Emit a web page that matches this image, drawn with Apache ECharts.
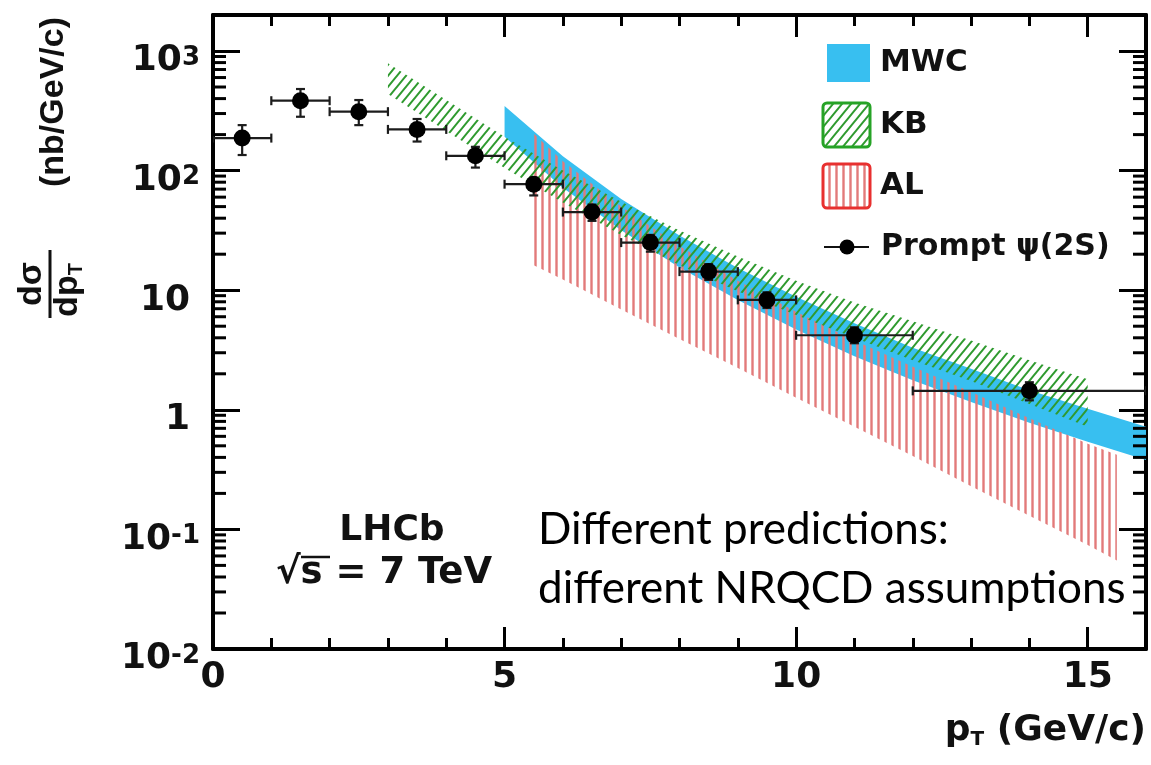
<!DOCTYPE html>
<html>
<head>
<meta charset="utf-8">
<script src="https://cdn.jsdelivr.net/npm/echarts@6.0.0/dist/echarts.min.js"></script>
<style>
  html, body { margin: 0; padding: 0; background: #ffffff; }
  #chart { width: 1151px; height: 765px; }
</style>
</head>
<body>
<div id="chart"></div>
<script>
// ---------------- data ----------------
// LHCb prompt psi(2S) cross-section, pT bins (GeV/c)
const ptLow  = [0, 1, 2, 3, 4, 5, 6, 7, 8, 9, 10, 12];
const ptHigh = [1, 2, 3, 4, 5, 6, 7, 8, 9, 10, 12, 16];
const ptMid  = [0.5, 1.5, 2.5, 3.5, 4.5, 5.5, 6.5, 7.5, 8.5, 9.5, 11, 14];
// dsigma/dpT (nb/GeV/c) with lower / upper error ends
const psi2S     = [187, 384, 311, 221, 133, 77, 45, 25, 14.3, 8.3, 4.2, 1.44];
const psi2SDown = [135, 282, 240, 175, 106, 62, 38, 21, 12.2, 7.1, 3.6, 1.2];
const psi2SUp   = [240, 481, 389, 270, 158, 87, 52, 29, 16.5, 9.6, 4.9, 1.7];

// NRQCD predictions: band edges
const mwcPt   = [5, 6, 7, 8, 9, 10, 11, 12, 13, 14, 15, 16];
const mwcLow  = [192, 72, 31.7, 15.5, 8.3, 4.7, 2.8, 1.77, 1.16, 0.78, 0.54, 0.38];
const mwcHigh = [347, 132, 58, 28.6, 15.3, 8.8, 5.3, 3.3, 2.2, 1.46, 1.02, 0.72];

const kbPt   = [3, 4, 5, 6, 7, 8, 9, 10, 11, 12, 13, 14, 15];
const kbLow  = [437, 214, 105, 54, 29, 16.2, 9.8, 6.2, 4.0, 2.6, 1.74, 1.12, 0.72];
const kbHigh = [789, 389, 192, 100, 55, 31.6, 19.1, 12.0, 7.9, 5.5, 3.8, 2.6, 1.8];

const alPt   = [5.5, 6, 7, 8, 9, 10, 11, 12, 13, 14, 15, 15.5];
const alLow  = [16.2, 12.3, 6.9, 3.9, 2.24, 1.26, 0.72, 0.41, 0.23, 0.13, 0.074, 0.055];
const alHigh = [204, 120, 50, 23.4, 12.0, 6.6, 3.8, 2.29, 1.41, 0.85, 0.52, 0.42];

// axis ranges
const xRange = [0, 16];
const yRange = [0.01, 2000];
const xLabelStep = 5;

// ---------------- styles ----------------
const BLUE = '#38bff0';
const GREEN = '#2f9a2f';
const RED = '#e27a7a';
const BOLD = 'DejaVu Sans';
const TITLE = 'Liberation Sans';

function hatchTile(kind, w, h, color, lw) {
  const c = document.createElement('canvas');
  c.width = w; c.height = h;
  const g = c.getContext('2d');
  g.strokeStyle = color;
  g.lineWidth = lw;
  g.beginPath();
  if (kind === 'vertical') {
    g.moveTo(w / 2, -1); g.lineTo(w / 2, h + 1);
  } else {
    for (let k = -1; k <= 1; k++) {
      g.moveTo(-1, h * (1 + k) + h / w);
      g.lineTo(w + 1, h * k - h / w);
    }
  }
  g.stroke();
  return c;
}
const greenHatch = { image: hatchTile('diag', 9, 11, GREEN, 2), repeat: 'repeat' };
const redHatch = { image: hatchTile('vertical', 7, 7, RED, 2.4), repeat: 'repeat' };

// ---------------- series builders ----------------
function bandSeries(name, xs, lo, hi, fill, z, blend) {
  return {
    type: 'custom', name: name, coordinateSystem: 'cartesian2d',
    xAxisIndex: 0, yAxisIndex: 0, silent: true, clip: true, z: z,
    data: xs.map((x, i) => [x, lo[i], hi[i]]),
    encode: { x: 0, y: [1, 2] },
    renderItem: function (params, api) {
      if (params.dataIndex !== 0) return null;
      const pts = [];
      for (let i = 0; i < xs.length; i++) pts.push(api.coord([xs[i], hi[i]]));
      for (let i = xs.length - 1; i >= 0; i--) pts.push(api.coord([xs[i], lo[i]]));
      const style = { fill: fill };
      if (blend) style.blend = blend;
      return { type: 'polygon', shape: { points: pts }, style: style };
    }
  };
}

const errData = ptMid.map((x, i) => [x, psi2S[i], ptLow[i], ptHigh[i], psi2SDown[i], psi2SUp[i]]);

const errSeries = {
  type: 'custom', name: 'errors', coordinateSystem: 'cartesian2d',
  xAxisIndex: 0, yAxisIndex: 0, silent: true, clip: true, z: 5,
  data: errData,
  encode: { x: [0, 2, 3], y: [1, 4, 5] },
  renderItem: function (params, api) {
    const x = api.value(0), y = api.value(1);
    const c = api.coord([x, y]);
    const l = api.coord([api.value(2), y]);
    const r = api.coord([api.value(3), y]);
    const d = api.coord([x, api.value(4)]);
    const u = api.coord([x, api.value(5)]);
    const cap = 4.5;
    const st = { stroke: '#1c1c1c', lineWidth: 2.2 };
    const seg = (x1, y1, x2, y2) => ({ type: 'line', shape: { x1, y1, x2, y2 }, style: st });
    return {
      type: 'group',
      children: [
        seg(l[0], c[1], r[0], c[1]),
        seg(l[0], c[1] - cap, l[0], c[1] + cap),
        seg(r[0], c[1] - cap, r[0], c[1] + cap),
        seg(c[0], d[1], c[0], u[1]),
        seg(c[0] - cap, d[1], c[0] + cap, d[1]),
        seg(c[0] - cap, u[1], c[0] + cap, u[1])
      ]
    };
  }
};

// minor log ticks (2..9 in every decade) on left and right frame edges
const minorVals = [];
for (let e = -2; e <= 3; e++) {
  for (let m = 2; m <= 9; m++) {
    const v = m * Math.pow(10, e);
    if (v < yRange[1]) minorVals.push(v);
  }
}
const minorTickSeries = {
  type: 'custom', name: 'minorTicks', coordinateSystem: 'cartesian2d',
  xAxisIndex: 0, yAxisIndex: 0, silent: true, clip: false, z: 8,
  data: minorVals.map(v => [xRange[0], v]),
  encode: { x: 0, y: 1 },
  renderItem: function (params, api) {
    const v = api.value(1);
    const a = api.coord([xRange[0], v]);
    const b = api.coord([xRange[1], v]);
    const st = { stroke: '#000', lineWidth: 3 };
    return {
      type: 'group',
      children: [
        { type: 'line', shape: { x1: a[0], y1: a[1], x2: a[0] + 13, y2: a[1] }, style: st },
        { type: 'line', shape: { x1: b[0] - 13, y1: b[1], x2: b[0], y2: b[1] }, style: st }
      ]
    };
  }
};

// ---------------- axes ----------------
function xAxisDef(pos, interval, tickLen, showLine, showLabel) {
  return {
    type: 'value', position: pos, min: xRange[0], max: xRange[1], interval: interval,
    axisLine: { show: showLine, onZero: false, lineStyle: { color: '#000', width: 4 } },
    axisTick: { show: true, inside: true, length: tickLen, lineStyle: { color: '#000', width: 3 } },
    splitLine: { show: false },
    axisLabel: {
      show: showLabel, margin: 11,
      fontFamily: BOLD, fontWeight: 'bold', fontSize: 36, color: '#111', lineHeight: 36,
      formatter: v => (v % xLabelStep === 0 ? String(v) : '')
    }
  };
}
function yAxisDef(pos, showLabel) {
  return {
    type: 'log', logBase: 10, position: pos, min: yRange[0], max: yRange[1],
    axisLine: { show: true, onZero: false, lineStyle: { color: '#000', width: 4 } },
    axisTick: { show: true, inside: true, length: 27, lineStyle: { color: '#000', width: 3 } },
    splitLine: { show: false },
    axisLabel: {
      show: showLabel, margin: 13,
      formatter: function (v) {
        const e = Math.round(Math.log10(v));
        if (Math.abs(v / Math.pow(10, e) - 1) > 1e-6) return '';
        if (e === 0) return '{n|1}';
        if (e === 1) return '{n|10}';
        return '{b|10}{s|' + e + '}';
      },
      rich: {
        n: { fontFamily: BOLD, fontWeight: 'bold', fontSize: 36, color: '#111', lineHeight: 40, padding: [20, 10, 0, 0] },
        b: { fontFamily: BOLD, fontWeight: 'bold', fontSize: 36, color: '#111', lineHeight: 40, padding: [20, 0, 0, 0] },
        s: { fontFamily: BOLD, fontWeight: 'bold', fontSize: 26, color: '#111', lineHeight: 20, verticalAlign: 'top', padding: [14, 0, 0, 0] }
      }
    }
  };
}

// ---------------- overlay text & legend ----------------
const labelFont = (size) => ({ fontFamily: BOLD, fontWeight: 'bold', fontSize: size, fill: '#111' });
const titleFont = (size) => ({ fontFamily: TITLE, fontWeight: 'bold', fontSize: size, fill: '#111' });

// y-axis title, written in a group turned a quarter turn counter-clockwise
const yTitle = {
  type: 'group', x: 50, y: 284, rotation: Math.PI / 2,
  children: [
    { type: 'text', x: 0, y: -18, style: Object.assign({ text: 'dσ', align: 'center', verticalAlign: 'middle' }, titleFont(34)) },
    { type: 'line', shape: { x1: -34, y1: 0, x2: 34, y2: 0 }, style: { stroke: '#111', lineWidth: 3 } },
    { type: 'text', x: -6, y: 18, style: { text: '{a|dp}{t|T}', align: 'center', verticalAlign: 'middle',
        rich: { a: titleFont(34), t: Object.assign({ verticalAlign: 'bottom', padding: [16, 0, 0, 0] }, titleFont(20)) } } },
    { type: 'text', x: 182, y: 4, style: Object.assign({ text: '(nb/GeV/c)', align: 'center', verticalAlign: 'middle' }, titleFont(34)) }
  ]
};

const graphics = [
  yTitle,
  // x-axis title
  { type: 'text', x: 1146, y: 731,
    style: { text: '{p|p}{t|T}{p| (GeV/c)}', align: 'right', verticalAlign: 'middle',
      rich: { p: labelFont(36), t: Object.assign({ verticalAlign: 'bottom', padding: [18, 0, 0, 0] }, labelFont(20)) } } },

  // experiment label
  { type: 'text', x: 392, y: 531, style: Object.assign({ text: 'LHCb', align: 'center', verticalAlign: 'middle' }, labelFont(36)) },
  { type: 'text', x: 384, y: 573, style: Object.assign({ text: '√s = 7 TeV', align: 'center', verticalAlign: 'middle' }, labelFont(37)) },
  { type: 'line', shape: { x1: 301, y1: 557, x2: 330, y2: 557 }, style: { stroke: '#111', lineWidth: 2.5 } },

  // annotation
  { type: 'text', x: 538, y: 530, style: { text: 'Different predictions:', align: 'left', verticalAlign: 'middle',
      fontFamily: 'Lato', fontSize: 44, fill: '#000' } },
  { type: 'text', x: 538, y: 589, style: { text: 'different NRQCD assumptions', align: 'left', verticalAlign: 'middle',
      fontFamily: 'Lato', fontSize: 44, fill: '#000' } },

  // legend
  { type: 'rect', shape: { x: 827, y: 44, width: 43, height: 38 }, style: { fill: BLUE } },
  { type: 'rect', shape: { x: 823, y: 103, width: 47, height: 44, r: 4 }, style: { fill: greenHatch, stroke: '#26a326', lineWidth: 3 } },
  { type: 'rect', shape: { x: 823, y: 164, width: 47, height: 44, r: 4 }, style: { fill: redHatch, stroke: '#e8302f', lineWidth: 3 } },
  { type: 'line', shape: { x1: 824, y1: 247, x2: 869, y2: 247 }, style: { stroke: '#111', lineWidth: 2 } },
  { type: 'circle', shape: { cx: 847, cy: 247, r: 7.5 }, style: { fill: '#000' } },
  { type: 'text', x: 880, y: 63, style: Object.assign({ text: 'MWC', verticalAlign: 'middle' }, labelFont(31)) },
  { type: 'text', x: 880, y: 125, style: Object.assign({ text: 'KB', verticalAlign: 'middle' }, labelFont(31)) },
  { type: 'text', x: 880, y: 186, style: Object.assign({ text: 'AL', verticalAlign: 'middle' }, labelFont(31)) },
  { type: 'text', x: 881, y: 247, style: Object.assign({ text: 'Prompt ψ(2S)', verticalAlign: 'middle' }, labelFont(30)) }
];

// ---------------- chart ----------------
const chart = echarts.init(document.getElementById('chart'), null, { renderer: 'canvas' });
chart.setOption({
  animation: false,
  backgroundColor: '#ffffff',
  grid: { left: 213, right: 5, top: 15, bottom: 116, containLabel: false },
  xAxis: [
    xAxisDef('bottom', 1, 11, true, true),
    xAxisDef('bottom', xLabelStep, 22, false, false),
    xAxisDef('top', 1, 11, true, false),
    xAxisDef('top', xLabelStep, 22, false, false)
  ],
  yAxis: [
    yAxisDef('left', true),
    yAxisDef('right', false)
  ],
  series: [
    bandSeries('MWC', mwcPt, mwcLow, mwcHigh, BLUE, 1),
    bandSeries('AL', alPt, alLow, alHigh, redHatch, 2, 'multiply'),
    bandSeries('KB', kbPt, kbLow, kbHigh, greenHatch, 3),
    errSeries,
    {
      type: 'scatter', name: 'Prompt ψ(2S)', xAxisIndex: 0, yAxisIndex: 0, z: 6, silent: true,
      symbol: 'circle', symbolSize: 17, itemStyle: { color: '#000', opacity: 1 },
      data: ptMid.map((x, i) => [x, psi2S[i]])
    },
    minorTickSeries
  ],
  graphic: graphics
});
</script>
</body>
</html>
